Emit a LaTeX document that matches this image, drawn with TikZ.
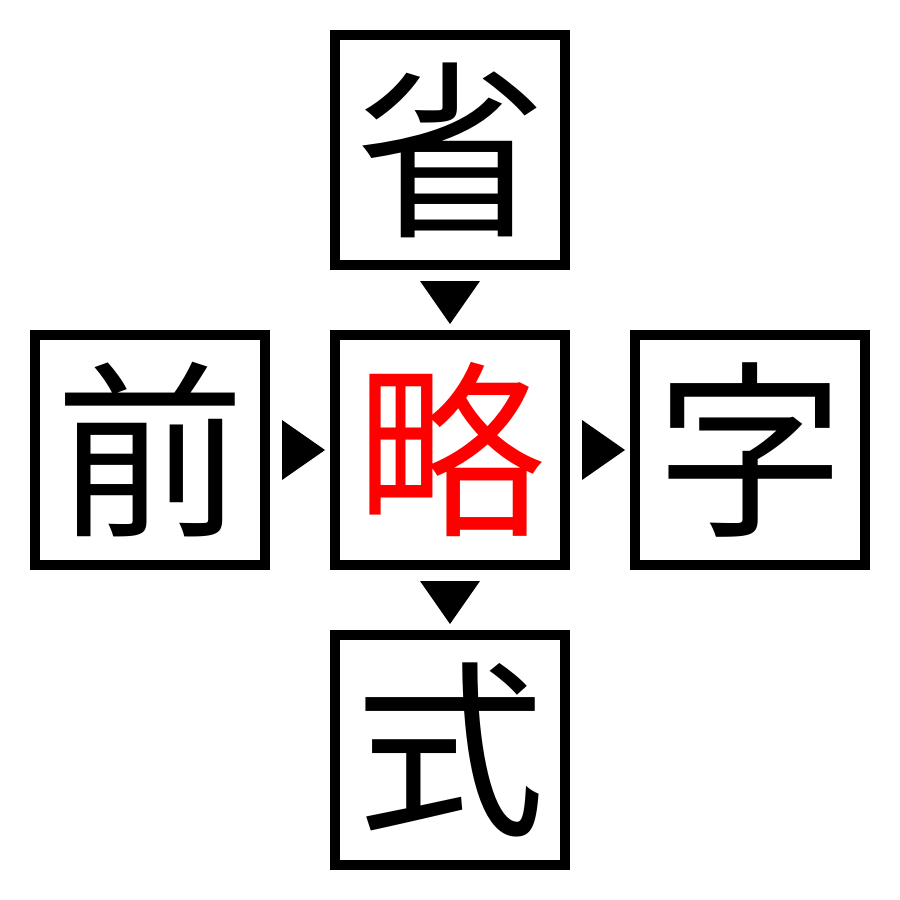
\documentclass[tikz,border=0pt]{standalone}
\usepackage{fontspec}
\newfontfamily\cjk{Noto Sans CJK JP}
\usetikzlibrary{calc}
\begin{document}
\begin{tikzpicture}[x=0.1mm,y=-0.1mm,
  charbox/.style={draw=black, line width=1mm, minimum size=23mm, inner sep=0pt, fill=white,
    font=\cjk\fontsize{54pt}{54pt}\selectfont},
  tri/.style={fill=black}]
\useasboundingbox (0,0) rectangle (900,900);
\node[charbox] (top) at (450,150) {省};
\node[charbox] (mid) at (450,450) {\textcolor{red}{略}};
\node[charbox] (lft) at (150,450) {前};
\node[charbox] (rgt) at (750,450) {字};
\node[charbox] (bot) at (450,750) {式};
% down triangles
\coordinate (t1) at ($(top.south)!0.5!(mid.north)$);
\coordinate (t2) at ($(mid.south)!0.5!(bot.north)$);
\coordinate (r1) at ($(lft.east)!0.5!(mid.west)$);
\coordinate (r2) at ($(mid.east)!0.5!(rgt.west)$);
\foreach \c in {t1,t2}{
  \fill[tri] ($(\c)+(-30,-19)$) -- ($(\c)+(30,-19)$) -- ($(\c)+(0,24)$) -- cycle;
}
\foreach \c in {r1,r2}{
  \fill[tri] ($(\c)+(-18,-30)$) -- ($(\c)+(-18,30)$) -- ($(\c)+(25,0)$) -- cycle;
}
\end{tikzpicture}
\end{document}
